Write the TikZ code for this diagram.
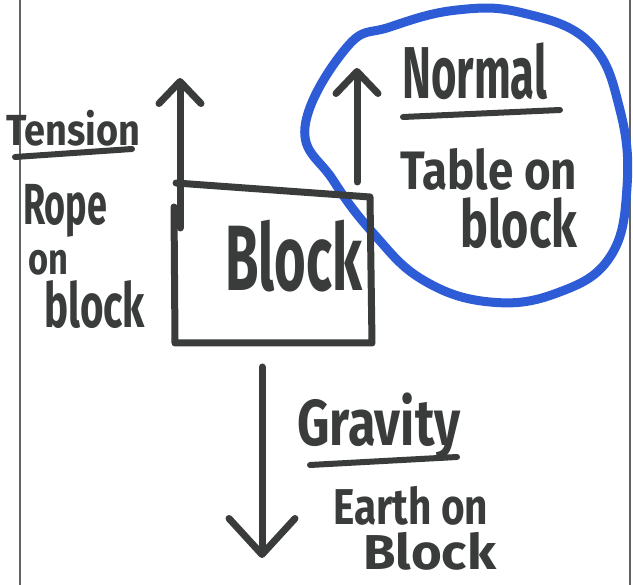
\documentclass[tikz,border=0pt]{standalone}
\usepackage{fontspec}
\usepackage{graphicx}
\setmainfont{Fira Sans}
\usetikzlibrary{arrows.meta}
\definecolor{ink}{RGB}{58,60,60}
\definecolor{marker}{RGB}{46,92,214}
\newcommand\fitword[3]{\resizebox*{#1pt}{#2pt}{\bfseries #3}}
\tikzset{
  x=1pt, y=-1pt,
  pen/.style={draw=ink, line width=7pt, line cap=round, line join=round},
  force/.style={pen, -{Straight Barb[round, length=22pt, width=42pt]}},
  word/.style={text=ink, inner sep=0pt, anchor=north west},
  pageedge/.style={draw=ink!80, line width=1.6pt},
  ring/.style={draw=marker, line width=9pt, line cap=round},
}
\begin{document}
\begin{tikzpicture}
\useasboundingbox (0,0) rectangle (633,585);
\fill[white] (0,0) rectangle (633,585);

% sheet edges
\draw[pageedge] (20,0) -- (20,585);
\draw[pageedge] (630,0) -- (630,585);

% blue loop round the normal force
\draw[ring] plot[smooth cycle, tension=0.7] coordinates {
  (347,47) (305,127) (333,180) (373,233) (423,280) (490,302)
  (557,293) (610,257) (627,187) (620,110) (590,43) (523,13)
  (457,10) (390,27)};

% the block
\coordinate (bTL) at (176,183);
\coordinate (bTR) at (370,197);
\coordinate (bBR) at (372,343);
\coordinate (bBL) at (175,343);
\coordinate (bLgap) at (174,207);
\draw[pen] (bTL) -- (bTR) -- (bBR) -- (bBL) -- (bLgap);
\node[word] (blockLbl) at (225,220) {\fitword{137}{72}{Block}};

% tension
\coordinate (tTail) at (180,228);
\coordinate (tHead) at (180,78);
\draw[force] (tTail) -- (tHead);
\node[word] (tensionLbl) at (6,110) {\fitword{134}{36}{Tension}};
\draw[pen, line width=6pt] (15,157) -- (132,149);
\node[word] (ropeLbl) at (23,184) {\fitword{84}{53}{Rope}};
\node[word] (onLbl) at (28,250) {\fitword{40}{25}{on}};
\node[word] (rblockLbl) at (44,280) {\fitword{101}{48}{block}};

% normal
\coordinate (nTail) at (357,182);
\coordinate (nHead) at (357,68);
\draw[force] (nTail) -- (nHead);
\node[word] (normalLbl) at (402,43) {\fitword{145}{57}{Normal}};
\draw[pen, line width=6pt] (403,117) -- (560,110);
\node[word] (tableLbl) at (400,148) {\fitword{177}{42}{Table on}};
\node[word] (tblockLbl) at (460,197) {\fitword{117}{51}{block}};

% gravity
\coordinate (gTail) at (262,367);
\coordinate (gHead) at (262,558);
\draw[force, -{Straight Barb[round, length=36pt, width=66pt]}] (gTail) -- (gHead);
\node[word] (gravityLbl) at (297,393) {\fitword{163}{67}{Gravity}};
\draw[pen, line width=6pt] (310,465) -- (457,457);
\node[word] (earthLbl) at (333,486) {\fitword{155}{39}{Earth on}};
\node[word] (eblockLbl) at (363,532) {\fitword{133}{38}{Block}};
\end{tikzpicture}
\end{document}
